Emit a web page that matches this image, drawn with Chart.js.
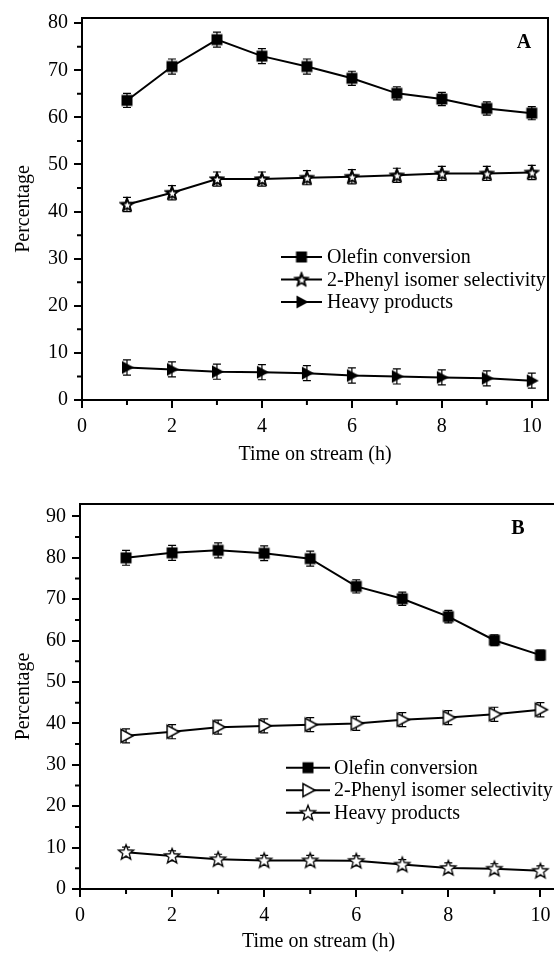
<!DOCTYPE html>
<html>
<head>
<meta charset="utf-8">
<script src="https://cdn.jsdelivr.net/npm/chart.js@4.4.0/dist/chart.umd.min.js"></script>
<style>
  html, body { margin: 0; padding: 0; background: #fff; overflow: hidden; width: 554px; height: 954px; }
  .panel { position: absolute; left: 0; width: 554px; overflow: hidden; }
  #boxA { top: 0; height: 470px; }
  #boxB { top: 470px; height: 484px; }
  canvas { display: block; }
</style>
</head>
<body>
<div class="panel" id="boxA"><canvas id="chartA" width="554" height="470"></canvas></div>
<div class="panel" id="boxB"><canvas id="chartB" width="560" height="484"></canvas></div>
<script>
// time on stream (h)
const hours = [1, 2, 3, 4, 5, 6, 7, 8, 9, 10];

// panel A
const olefinA = [63.6, 70.8, 76.5, 73.0, 70.8, 68.3, 65.1, 63.9, 61.9, 60.9];
const olefinErrA = [1.5, 1.6, 1.6, 1.6, 1.6, 1.5, 1.4, 1.4, 1.4, 1.4];
const phenylA = [41.5, 44.0, 46.9, 46.9, 47.2, 47.4, 47.7, 48.1, 48.1, 48.3];
const phenylErrA = [1.5, 1.5, 1.5, 1.5, 1.5, 1.5, 1.5, 1.5, 1.5, 1.5];
const heavyA = [6.9, 6.5, 6.0, 5.9, 5.7, 5.2, 5.0, 4.8, 4.6, 4.1];
const heavyErrA = [1.6, 1.6, 1.6, 1.6, 1.6, 1.6, 1.6, 1.6, 1.6, 1.6];

// panel B
const olefinB = [80.0, 81.2, 81.8, 81.1, 79.8, 73.1, 70.1, 65.8, 60.1, 56.5];
const olefinErrB = [1.8, 1.8, 1.8, 1.8, 1.8, 1.6, 1.6, 1.5, 1.3, 1.2];
const phenylB = [37.0, 38.0, 39.1, 39.4, 39.7, 40.0, 40.9, 41.4, 42.2, 43.3];
const phenylErrB = [1.7, 1.7, 1.7, 1.7, 1.7, 1.7, 1.7, 1.7, 1.7, 1.7];
const heavyB = [8.9, 8.0, 7.2, 6.9, 6.9, 6.8, 5.9, 5.1, 4.9, 4.4];
const heavyErrB = [1.2, 1.2, 1.2, 1.2, 1.2, 1.2, 1.2, 1.2, 1.2, 1.2];

// axis ticks
const xTicks = [0, 2, 4, 6, 8, 10];
const xMinor = [1, 3, 5, 7, 9];
const yTicksA = [0, 10, 20, 30, 40, 50, 60, 70, 80];
const yMinorA = [5, 15, 25, 35, 45, 55, 65, 75];
const yTicksB = [0, 10, 20, 30, 40, 50, 60, 70, 80, 90];
const yMinorB = [5, 15, 25, 35, 45, 55, 65, 75, 85];

const legendLabels = ['Olefin conversion', '2-Phenyl isomer selectivity', 'Heavy products'];

const FONT = '"Liberation Serif", "Times New Roman", serif';
Chart.defaults.font.family = FONT;
Chart.defaults.font.size = 20;
Chart.defaults.color = '#000';

function starPath(g, m, ro, ri) {
  g.beginPath();
  for (let i = 0; i < 10; i++) {
    const r = i % 2 === 0 ? ro : ri;
    const a = -Math.PI / 2 + i * Math.PI / 5;
    const px = m + r * Math.cos(a), py = m + 0.5 + r * Math.sin(a);
    if (i === 0) g.moveTo(px, py); else g.lineTo(px, py);
  }
  g.closePath();
}

// markers drawn on small canvases, used as pointStyle
function makeMarker(kind, filled, lw) {
  const size = 20;
  const c = document.createElement('canvas');
  c.width = size; c.height = size;
  const g = c.getContext('2d');
  const m = size / 2;
  g.fillStyle = filled ? '#000' : '#fff';
  g.strokeStyle = '#000';
  g.lineWidth = lw;
  g.lineJoin = 'miter';
  if (kind === 'square') {
    g.beginPath();
    g.rect(m - 5.5, m - 5.5, 11, 11);
  } else if (kind === 'triangle') {
    g.beginPath();
    g.moveTo(m - 5, m - 6.5);
    g.lineTo(m + 7, m);
    g.lineTo(m - 5, m + 6.5);
    g.closePath();
  } else {
    starPath(g, m, 8, 3.4);
  }
  g.fill();
  if (lw > 0) g.stroke();
  if (kind === 'star' && filled) {
    g.fillStyle = '#fff';
    starPath(g, m + 0.3, 3.6, 1.6);
    g.fill();
  }
  return c;
}

const sqFilled = makeMarker('square', true, 0);
const starDark = makeMarker('star', true, 1);
const starThin = makeMarker('star', false, 1.3);
const triFilled = makeMarker('triangle', true, 0);
const triOpen = makeMarker('triangle', false, 1.5);

const errorBars = {
  id: 'errorBars',
  beforeDatasetsDraw(chart) {
    const ctx = chart.ctx, xs = chart.scales.x, ys = chart.scales.y;
    ctx.save();
    ctx.strokeStyle = '#000';
    ctx.lineWidth = 1.2;
    chart.data.datasets.forEach(ds => {
      if (!ds.errors) return;
      ds.data.forEach((p, i) => {
        const x = xs.getPixelForValue(p.x);
        const y0 = ys.getPixelForValue(p.y - ds.errors[i]);
        const y1 = ys.getPixelForValue(p.y + ds.errors[i]);
        ctx.beginPath();
        ctx.moveTo(x, y0); ctx.lineTo(x, y1);
        ctx.moveTo(x - 4, y0); ctx.lineTo(x + 4, y0);
        ctx.moveTo(x - 4, y1); ctx.lineTo(x + 4, y1);
        ctx.stroke();
      });
    });
    ctx.restore();
  }
};

const frameAndMinor = {
  id: 'frameAndMinor',
  afterDraw(chart, args, opts) {
    const ctx = chart.ctx, a = chart.chartArea, xs = chart.scales.x, ys = chart.scales.y;
    ctx.save();
    ctx.strokeStyle = '#000';
    ctx.lineWidth = 2;
    ctx.strokeRect(a.left, a.top, a.right - a.left, a.bottom - a.top);
    ctx.beginPath();
    opts.xMinor.forEach(v => {
      const x = xs.getPixelForValue(v);
      ctx.moveTo(x, a.bottom); ctx.lineTo(x, a.bottom + 5);
    });
    opts.yMinor.forEach(v => {
      const y = ys.getPixelForValue(v);
      ctx.moveTo(a.left - 5, y); ctx.lineTo(a.left, y);
    });
    ctx.stroke();

    // panel letter
    ctx.font = 'bold 20px ' + FONT;
    ctx.fillStyle = '#000';
    ctx.textAlign = 'center';
    ctx.textBaseline = 'middle';
    ctx.fillText(opts.letter, opts.letterX, opts.letterY);

    // legend inside the plot
    const L = opts.legend;
    ctx.font = '20px ' + FONT;
    ctx.textAlign = 'left';
    chart.data.datasets.forEach((ds, i) => {
      const y = L.y + i * L.dy;
      ctx.beginPath();
      ctx.moveTo(L.x0, y); ctx.lineTo(L.x1, y);
      ctx.stroke();
      const img = ds.pointStyle;
      ctx.drawImage(img, (L.x0 + L.x1) / 2 - img.width / 2, y - img.height / 2);
      ctx.fillText(ds.label, L.xt, y + 1);
    });
    ctx.restore();
  }
};

function series(label, values, errs, marker) {
  return {
    label: label,
    data: hours.map((h, i) => ({ x: h, y: values[i] })),
    errors: errs,
    borderColor: '#000',
    borderWidth: 2,
    pointStyle: marker,
    pointRadius: 7,
    tension: 0,
    fill: false
  };
}

function buildPanel(id, p) {
  return new Chart(document.getElementById(id), {
    type: 'line',
    data: { datasets: p.datasets },
    options: {
      responsive: false,
      animation: false,
      layout: { autoPadding: false, padding: { top: p.padTop, right: p.padRight, left: 0, bottom: 0 } },
      plugins: {
        legend: { display: false },
        tooltip: { enabled: false },
        frameAndMinor: p.deco
      },
      scales: {
        x: {
          type: 'linear', min: 0, max: 10.36,
          afterBuildTicks: s => { s.ticks = xTicks.map(v => ({ value: v })); },
          afterFit: s => { s.height = p.xHeight; s.paddingLeft = 0; s.paddingRight = 0; },
          ticks: { padding: 7, maxRotation: 0, autoSkip: false, color: '#000' },
          grid: { drawOnChartArea: false, tickLength: 8, color: '#000', lineWidth: 2 },
          border: { color: '#000', width: 2 },
          title: { display: true, text: 'Time on stream (h)', color: '#000', padding: { top: 0, bottom: p.titlePad } }
        },
        y: {
          type: 'linear', min: 0, max: p.yMax,
          afterBuildTicks: s => { s.ticks = p.yTicks.map(v => ({ value: v })); },
          afterFit: s => { s.width = p.yWidth; s.paddingTop = 0; s.paddingBottom = 0; },
          ticks: { padding: 6, color: '#000' },
          grid: { drawOnChartArea: false, tickLength: 8, color: '#000', lineWidth: 2 },
          border: { color: '#000', width: 2 },
          title: { display: true, text: 'Percentage', color: '#000', padding: { top: 12, bottom: 0 } }
        }
      }
    },
    plugins: [errorBars, frameAndMinor]
  });
}

buildPanel('chartA', {
  padTop: 18, padRight: 6, xHeight: 70, yWidth: 82, yMax: 81.1, titlePad: 3,
  yTicks: yTicksA,
  datasets: [
    series(legendLabels[0], olefinA, olefinErrA, sqFilled),
    series(legendLabels[1], phenylA, phenylErrA, starDark),
    series(legendLabels[2], heavyA, heavyErrA, triFilled)
  ],
  deco: {
    xMinor: xMinor, yMinor: yMinorA, letter: 'A', letterX: 524, letterY: 43,
    legend: { x0: 281, x1: 322, xt: 327, y: 257, dy: 22.5 }
  }
});

buildPanel('chartB', {
  padTop: 34, padRight: 3, xHeight: 65, yWidth: 80, yMax: 93, titlePad: 0,
  yTicks: yTicksB,
  datasets: [
    series(legendLabels[0], olefinB, olefinErrB, sqFilled),
    series(legendLabels[1], phenylB, phenylErrB, triOpen),
    series(legendLabels[2], heavyB, heavyErrB, starThin)
  ],
  deco: {
    xMinor: xMinor, yMinor: yMinorB, letter: 'B', letterX: 518, letterY: 59,
    legend: { x0: 286, x1: 330, xt: 334, y: 297.7, dy: 22.5 }
  }
});
</script>
</body>
</html>
